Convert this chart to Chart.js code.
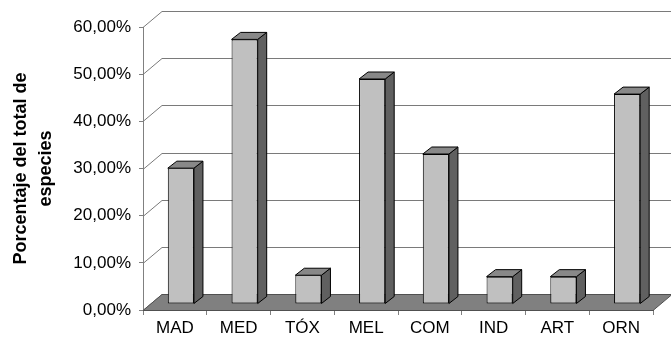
<!DOCTYPE html>
<html><head><meta charset="utf-8">
<script src="https://cdn.jsdelivr.net/npm/chart.js@4"></script>
<style>html,body{margin:0;padding:0;background:#fff}canvas{display:block}</style>
</head><body>
<canvas id="c" width="671" height="337"></canvas>
<script>
// Share of species per use category
const categories = ['MAD', 'MED', 'TÓX', 'MEL', 'COM', 'IND', 'ART', 'ORN'];
const percentages = [0.288, 0.561, 0.061, 0.477, 0.318, 0.058, 0.058, 0.445];
const yTickLabels = ['0,00%', '10,00%', '20,00%', '30,00%', '40,00%', '50,00%', '60,00%'];
const axisTitle = ['Porcentaje del total de', 'especies'];

// Oblique depth of the floor / back wall, and of each bar
const WALL = { dx: 19, dy: -16 };
const BAR_SHIFT = { dx: 6, dy: -6 };
const BAR_DEPTH = { dx: 9, dy: -7 };

const FONT = '"Liberation Sans", Arial, sans-serif';

const scene3d = {
  id: 'scene3d',
  beforeDatasetsDraw(chart) {
    const { ctx, chartArea: a, scales: { y } } = chart;
    ctx.save();
    ctx.lineWidth = 1;
    ctx.strokeStyle = '#7a7a7a';
    // side-wall diagonals and back-wall gridlines
    y.ticks.forEach(t => {
      const py = Math.round(y.getPixelForValue(t.value)) + 0.5;
      ctx.beginPath();
      ctx.moveTo(a.left, py);
      ctx.lineTo(a.left + WALL.dx, py + WALL.dy);
      ctx.lineTo(chart.width + 5, py + WALL.dy);
      ctx.stroke();
    });
    // floor
    const y0 = Math.round(y.getPixelForValue(0)) + 0.5;
    ctx.beginPath();
    ctx.moveTo(a.left, y0);
    ctx.lineTo(a.right, y0);
    ctx.lineTo(a.right + WALL.dx, y0 + WALL.dy);
    ctx.lineTo(a.left + WALL.dx, y0 + WALL.dy);
    ctx.closePath();
    ctx.fillStyle = '#808080';
    ctx.fill();
    ctx.strokeStyle = '#505050';
    ctx.stroke();
    ctx.restore();
    // bars stand part way back on the floor
    ctx.save();
    ctx.translate(BAR_SHIFT.dx, BAR_SHIFT.dy);
  },
  afterDatasetsDraw(chart) {
    const ctx = chart.ctx;
    ctx.lineWidth = 1;
    ctx.strokeStyle = '#000';
    ctx.lineJoin = 'round';
    chart.getDatasetMeta(0).data.forEach(bar => {
      const { x, y, base, width } = bar.getProps(['x', 'y', 'base', 'width'], true);
      const l = x - width / 2, r = x + width / 2;
      // right side face
      ctx.beginPath();
      ctx.moveTo(r, y);
      ctx.lineTo(r + BAR_DEPTH.dx, y + BAR_DEPTH.dy);
      ctx.lineTo(r + BAR_DEPTH.dx, base + BAR_DEPTH.dy);
      ctx.lineTo(r, base);
      ctx.closePath();
      ctx.fillStyle = '#606060';
      ctx.fill();
      ctx.stroke();
      // top face
      ctx.beginPath();
      ctx.moveTo(l, y);
      ctx.lineTo(l + BAR_DEPTH.dx, y + BAR_DEPTH.dy);
      ctx.lineTo(r + BAR_DEPTH.dx, y + BAR_DEPTH.dy);
      ctx.lineTo(r, y);
      ctx.closePath();
      ctx.fillStyle = '#888888';
      ctx.fill();
      ctx.stroke();
    });
    ctx.restore();
  }
};

new Chart(document.getElementById('c'), {
  type: 'bar',
  data: {
    labels: categories,
    datasets: [{
      data: percentages,
      backgroundColor: '#c0c0c0',
      borderColor: '#000',
      borderWidth: 1,
      borderSkipped: false,
      categoryPercentage: 1,
      barPercentage: 0.41,
      clip: false
    }]
  },
  options: {
    responsive: false,
    devicePixelRatio: 1,
    animation: false,
    layout: { padding: { top: 27, right: 18, bottom: 0, left: 0 } },
    plugins: { legend: { display: false }, tooltip: { enabled: false } },
    scales: {
      x: {
        offset: true,
        grid: { offset: true, drawOnChartArea: false, tickLength: 5, color: '#808080' },
        border: { color: '#505050' },
        ticks: { color: '#000', font: { family: FONT, size: 17 }, padding: 3, maxRotation: 0 },
        afterFit(s) { s.height = 27; }
      },
      y: {
        min: 0, max: 0.6,
        ticks: {
          stepSize: 0.1,
          color: '#000',
          font: { family: FONT, size: 17 },
          padding: 8,
          callback: (v, i) => yTickLabels[i]
        },
        grid: { drawOnChartArea: false, tickLength: 4, color: '#808080' },
        border: { color: '#808080' },
        title: {
          display: true,
          text: axisTitle,
          color: '#000',
          font: { family: FONT, size: 18, weight: 'bold', lineHeight: 1.4 },
          padding: { top: 8, bottom: 0 }
        },
        afterFit(s) { s.width = 143; }
      }
    }
  },
  plugins: [scene3d]
});
</script>
</body></html>
